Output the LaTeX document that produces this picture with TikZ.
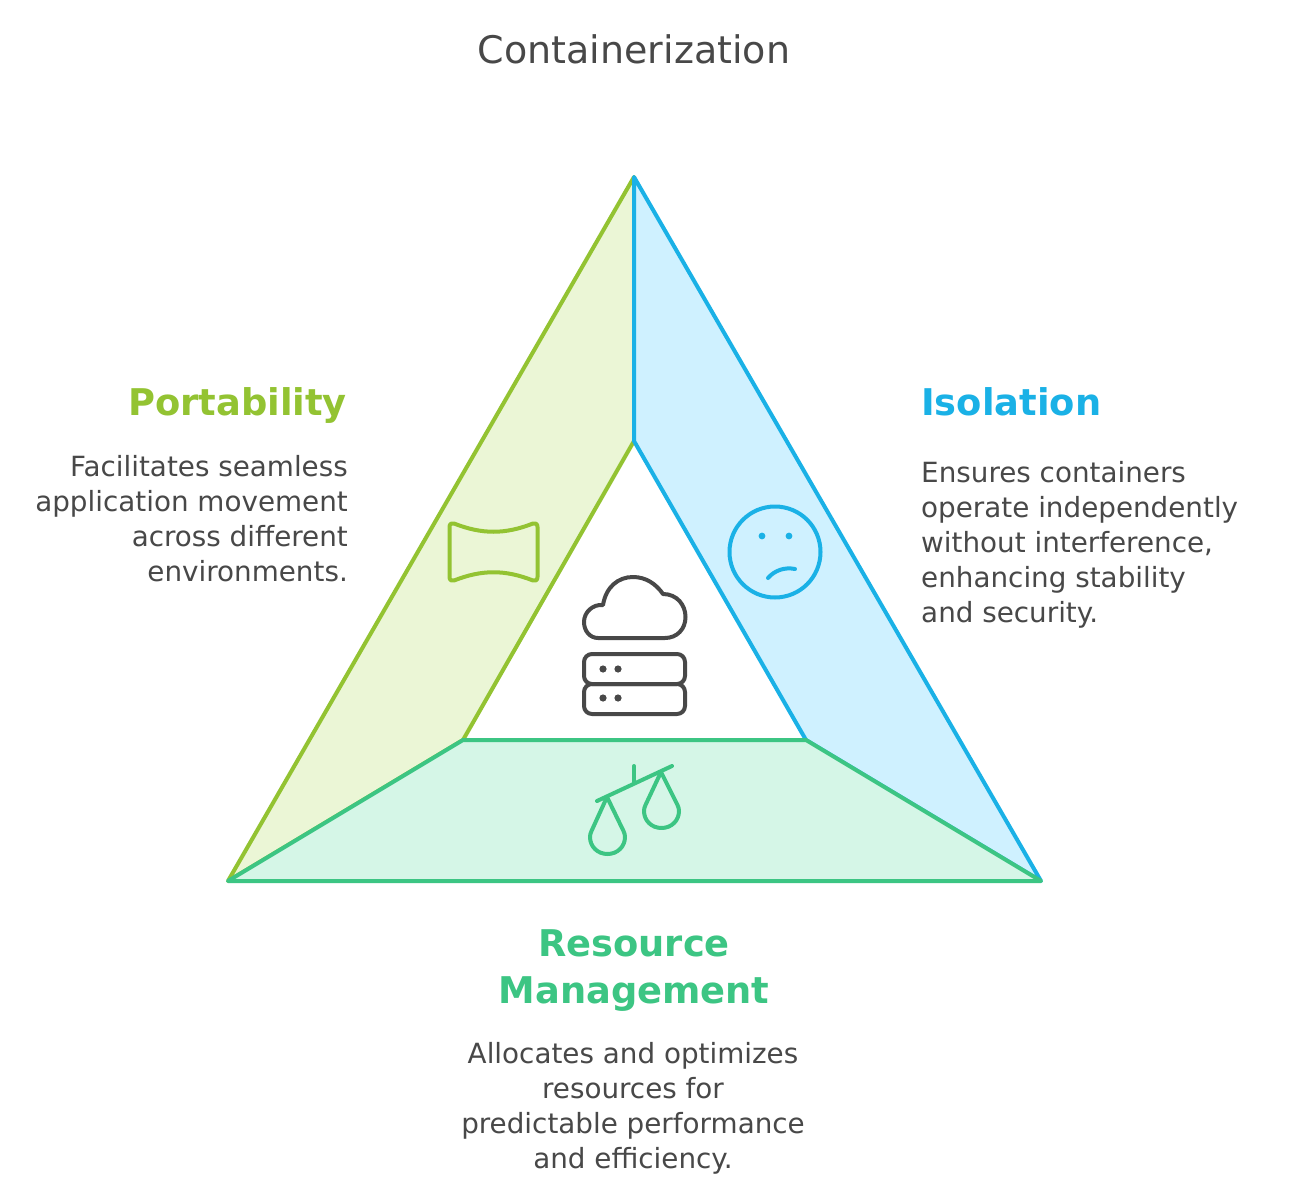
\documentclass[tikz,border=0pt]{standalone}
\usepackage{fontspec}
\setmainfont{DejaVu Sans}
\definecolor{pgreen}{HTML}{93C332}
\definecolor{pfill}{HTML}{EBF6D6}
\definecolor{iblue}{HTML}{1AB1E6}
\definecolor{ifill}{HTML}{CFF1FF}
\definecolor{rgreen}{HTML}{3CC583}
\definecolor{rfill}{HTML}{D5F6E7}
\definecolor{ink}{HTML}{484848}
\tikzset{
  panel/.style={line width=4pt,line join=round},
  icon/.style={line width=4pt,line join=round,line cap=round},
  body/.style={text=ink,font=\fontsize{27.8}{35}\selectfont,inner sep=0pt},
  head/.style={font=\fontsize{36.8}{47}\bfseries\selectfont,inner sep=0pt},
}
\begin{document}
\begin{tikzpicture}[x=1pt,y=-1pt]
\useasboundingbox (0,0) rectangle (1292,1198);
\fill[white] (0,0) rectangle (1292,1198);
\coordinate (T) at (634,177);
\coordinate (L) at (228,881);
\coordinate (R) at (1041,881);
\coordinate (IT) at (634,441);
\coordinate (IL) at (463,740);
\coordinate (IR) at (806,740);
\draw[panel,draw=pgreen,fill=pfill] (T) -- (IT) -- (IL) -- (L) -- cycle;
\draw[panel,draw=iblue,fill=ifill] (T) -- (R) -- (IR) -- (IT) -- cycle;
\draw[panel,draw=rgreen,fill=rfill] (L) -- (IL) -- (IR) -- (R) -- cycle;
% cloud
\draw[icon,draw=ink] (603,605) .. controls (606,587) and (618,577) .. (633,577)
  .. controls (646,577) and (656,584) .. (663,594)
  .. controls (677,594) and (685.5,605) .. (685.5,617)
  .. controls (685.5,629) and (677,638) .. (665,638)
  -- (598,638) .. controls (590,638) and (584,631) .. (584,622)
  .. controls (584,612) and (593,604) .. (603,605) -- cycle;
\draw[icon,draw=ink,rounded corners=8pt] (584,654) rectangle (685,684);
\draw[icon,draw=ink,rounded corners=8pt] (584,684) rectangle (685,714);
\fill[ink] (603,669) circle (3.6) (618,669) circle (3.6) (603,698) circle (3.6) (618,698) circle (3.6);
% scale
\draw[icon,draw=rgreen] (597,801) -- (672,766);
\draw[icon,draw=rgreen] (634,766) -- (634,782);
\draw[icon,draw=rgreen] (607,797) -- (591.5,831) .. controls (590.5,833) and (590,835) .. (590,837)
  .. controls (590,846.5) and (597.5,854) .. (607.5,854)
  .. controls (617.5,854) and (625,846.5) .. (625,837)
  .. controls (625,835) and (624.5,833) .. (623.5,831) -- cycle;
\begin{scope}[shift={(54,-26)}]
\draw[icon,draw=rgreen] (607,798) -- (591.5,831) .. controls (590.5,833) and (590,835) .. (590,837)
  .. controls (590,846.5) and (597.5,854) .. (607.5,854)
  .. controls (617.5,854) and (625,846.5) .. (625,837)
  .. controls (625,835) and (624.5,833) .. (623.5,831) -- cycle;
\end{scope}
% film
\draw[icon,draw=pgreen] (449.5,527) .. controls (449.5,524) and (451.5,522.5) .. (454,523.5)
  .. controls (482,534.5) and (505,534.5) .. (533,523.5)
  .. controls (535.5,522.5) and (537.5,524) .. (537.5,527)
  -- (537.5,577) .. controls (537.5,580) and (535.5,581.5) .. (533,580.5)
  .. controls (505,569.5) and (482,569.5) .. (454,580.5)
  .. controls (451.5,581.5) and (449.5,580) .. (449.5,577) -- cycle;
% face
\draw[icon,draw=iblue] (775,552) circle (45.5);
\fill[iblue] (762,536) circle (3.4) (789,536) circle (3.4);
\draw[icon,draw=iblue] (768,578) .. controls (775,570) and (785,567) .. (795,569);
% text
\node[text=ink,font=\fontsize{38}{42}\selectfont,inner sep=0pt,anchor=base] (title) at (634,64) {Containerization};
\node[head,text=pgreen,anchor=base east] (phead) at (347,415) {Portability};
\node[body,align=right,anchor=north east] (pbody) at (348,455) {Facilitates seamless\\application movement\\across different\\environments.};
\node[head,text=iblue,anchor=base west] (ihead) at (921,415) {Isolation};
\node[body,align=left,anchor=north west] (ibody) at (921,461) {Ensures containers\\operate independently\\without interference,\\enhancing stability\\and security.};
\node[head,text=rgreen,align=center,anchor=north] (rhead) at (634,929) {Resource\\Management};
\node[body,align=center,anchor=north] (rbody) at (633,1042) {Allocates and optimizes\\resources for\\predictable performance\\and efficiency.};
\end{tikzpicture}
\end{document}
